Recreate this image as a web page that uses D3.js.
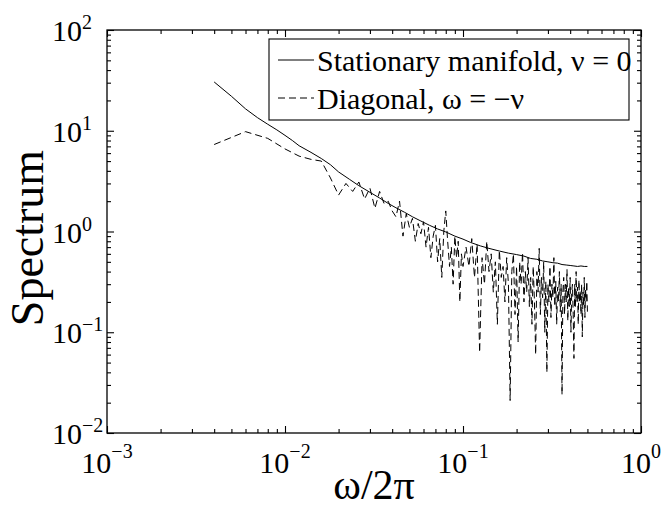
<!DOCTYPE html>
<html>
<head>
<meta charset="utf-8">
<script src="https://cdn.jsdelivr.net/npm/d3@7"></script>
<style>
  body { margin: 0; background: #fff; }
  svg { font-family: "Liberation Serif", "Times New Roman", serif; }
</style>
</head>
<body>
<div id="chart-area"></div>
<script>
// spectrum data
var freqSolid = [0.004,0.005,0.006,0.007,0.008,0.009,0.010,0.011,0.012,0.014,0.016,0.018,0.020,0.023,0.026,0.030,
    0.034,0.038,0.042,0.047,0.052,0.058,0.065,0.072,0.080,0.090,0.100,0.110,0.125,0.140,0.160,0.180,0.200,0.220,
    0.240,0.260,0.280,0.300,0.320,0.340,0.360,0.380,0.400,0.420,0.440,0.460,0.480,0.500];
var specSolid = [30.5,22,16.5,13.5,11.6,10.2,9.0,8.0,7.1,6.1,5.3,4.6,3.9,3.3,2.85,2.45,
    2.15,1.9,1.72,1.55,1.40,1.27,1.15,1.06,0.99,0.90,0.84,0.78,0.72,0.68,0.64,0.61,0.59,0.57,
    0.54,0.53,0.51,0.50,0.49,0.485,0.47,0.465,0.46,0.455,0.45,0.455,0.45,0.45];

var freqDiag = [0.004,0.006,0.008,0.010,0.012,0.014,0.016,0.018,0.020,0.022,0.024,0.026,0.028,0.030,0.032,0.034,
    0.036,0.038,0.040,0.042,0.044,0.046,0.048,0.050,0.052,0.054,0.056,0.058,0.060,0.062,0.064,0.066,0.068,0.070,
    0.072,0.074,0.076,0.078,0.080,0.082,0.084,0.086,0.088,0.090,0.092,0.094,0.096,0.098,0.100,
    0.104,0.108,0.112,0.116,0.120,0.124,0.128,0.132,0.136,0.140,0.144,0.148,0.152,0.156,0.160,0.164,0.168,0.172,
    0.176,0.180,0.184,0.188,0.192,0.196,0.200,0.204,0.208,0.212,0.216,0.220,0.224,0.228,0.232,0.236,0.240,0.244,
    0.248,0.252,0.256,0.260,0.264,0.268,0.272,0.276,0.280,0.284,0.288,0.292,0.296,0.300,0.304,0.308,0.312,0.316,
    0.320,0.324,0.328,0.332,0.336,0.340,0.344,0.348,0.352,0.356,0.360,0.364,0.368,0.372,0.376,0.380,0.384,0.388,
    0.392,0.396,0.400,0.404,0.408,0.412,0.416,0.420,0.424,0.428,0.432,0.436,0.440,0.444,0.448,0.452,0.456,0.460,
    0.464,0.468,0.472,0.476,0.480,0.484,0.488,0.492,0.496,0.500];
var specDiag = [7.3,9.8,8.4,6.6,5.6,5.2,5.0,3.4,2.3,3.0,2.5,3.1,2.1,2.7,1.7,2.5,
    1.9,2.0,1.6,1.4,2.0,0.9,1.5,1.1,1.35,0.8,1.2,0.95,1.25,0.7,1.1,0.55,0.9,1.15,
    0.5,0.85,0.35,1.0,1.6,0.8,0.45,0.7,0.3,0.9,0.55,0.8,0.2,0.6,0.45,
    0.7,0.45,0.85,0.35,0.75,0.063,0.55,0.3,0.8,0.4,0.6,0.25,0.5,0.12,0.65,0.35,0.45,0.2,
    0.55,0.3,0.021,0.4,0.6,0.15,0.45,0.08,0.5,0.3,0.62,0.2,0.4,0.25,0.55,0.18,0.35,0.12,
    0.45,0.2,0.06,0.4,0.25,0.68,0.15,0.35,0.22,0.5,0.1,0.32,0.04,0.3,0.2,0.45,0.14,0.3,
    0.22,0.55,0.18,0.32,0.12,0.28,0.2,0.4,0.16,0.3,0.024,0.25,0.35,0.15,0.3,0.2,0.42,0.13,
    0.28,0.18,0.35,0.1,0.25,0.3,0.15,0.055,0.3,0.18,0.4,0.2,0.28,0.12,0.33,0.2,0.26,0.15,
    0.3,0.09,0.25,0.18,0.35,0.14,0.27,0.2,0.32,0.16];

var xMajor = [1e-3, 1e-2, 1e-1, 1];
var xExp = ["\u22123", "\u22122", "\u22121", "0"];
var yMajor = [1e-2, 1e-1, 1, 10, 100];
var yExp = ["\u22122", "\u22121", "0", "1", "2"];
var legendLabels = ["Stationary manifold, \u03BD = 0", "Diagonal, \u03C9 = \u2212\u03BD"];

var width = 661, height = 510;
var plot = {left: 107, right: 641, top: 30, bottom: 433};

var svg = d3.select("#chart-area").append("svg").attr("width", width).attr("height", height);
svg.append("rect").attr("width", width).attr("height", height).attr("fill", "#fff");

var x = d3.scaleLog().domain([1e-3, 1]).range([plot.left, plot.right]);
var y = d3.scaleLog().domain([1e-2, 1e2]).range([plot.bottom, plot.top]);

var isMajor = (v) => Math.abs(Math.log10(v) - Math.round(Math.log10(v))) < 1e-9;
var xMinor = x.ticks().filter((v) => !isMajor(v));
var yMinor = y.ticks().filter((v) => !isMajor(v));

// inward ticks on all four sides
function ticks(axisFn, scale, vals, size, transform) {
    svg.append("g").attr("transform", transform)
        .call(axisFn(scale).tickValues(vals).tickSize(-size).tickSizeOuter(0).tickFormat(""))
        .call((g) => g.select(".domain").remove())
        .selectAll("line").attr("stroke", "#000").attr("stroke-width", 1.1);
}
[[xMinor, 4], [xMajor, 7]].forEach((p) => {
    ticks(d3.axisBottom, x, p[0], p[1], "translate(0," + plot.bottom + ")");
    ticks(d3.axisTop, x, p[0], p[1], "translate(0," + plot.top + ")");
});
[[yMinor, 4], [yMajor, 7]].forEach((p) => {
    ticks(d3.axisLeft, y, p[0], p[1], "translate(" + plot.left + ",0)");
    ticks(d3.axisRight, y, p[0], p[1], "translate(" + plot.right + ",0)");
});

// data lines
var line = d3.line().x((d) => x(d[0])).y((d) => y(d[1]));
svg.append("clipPath").attr("id", "clip").append("rect")
    .attr("x", plot.left).attr("y", plot.top).attr("width", plot.right - plot.left).attr("height", plot.bottom - plot.top);
var lines = svg.append("g").attr("clip-path", "url(#clip)");
lines.append("path").datum(d3.zip(freqDiag, specDiag)).attr("d", line)
    .attr("fill", "none").attr("stroke", "#000").attr("stroke-width", 1).attr("stroke-dasharray", "7,4");
lines.append("path").datum(d3.zip(freqSolid, specSolid)).attr("d", line)
    .attr("fill", "none").attr("stroke", "#000").attr("stroke-width", 1);

// frame
svg.append("rect").attr("x", plot.left).attr("y", plot.top)
    .attr("width", plot.right - plot.left).attr("height", plot.bottom - plot.top)
    .attr("fill", "none").attr("stroke", "#000").attr("stroke-width", 1.3);

// tick labels
xMajor.forEach((v, i) => {
    var t = svg.append("text").attr("x", x(v)).attr("y", plot.bottom + 40)
        .attr("text-anchor", "middle").attr("font-size", "30px");
    t.append("tspan").text("10");
    t.append("tspan").attr("dy", -15).attr("font-size", "20px").text(xExp[i]);
});
yMajor.forEach((v, i) => {
    var t = svg.append("text").attr("x", 52).attr("y", y(v) + 11)
        .attr("text-anchor", "start").attr("font-size", "30px");
    t.append("tspan").text("10");
    t.append("tspan").attr("dy", -12).attr("font-size", "20px").text(yExp[i]);
});

// axis labels
svg.append("text").attr("x", (plot.left + plot.right) / 2).attr("y", 499)
    .attr("text-anchor", "middle").attr("font-size", "42px").text("\u03C9/2\u03C0");
svg.append("text").attr("transform", "translate(43,238) rotate(-90)")
    .attr("text-anchor", "middle").attr("font-size", "46px").text("Spectrum");

// legend
var legend = svg.append("g");
legend.append("rect").attr("x", 269).attr("y", 39).attr("width", 360).attr("height", 81)
    .attr("fill", "#fff").attr("stroke", "#000").attr("stroke-width", 1.1);
legendLabels.forEach((lab, i) => {
    var ly = 60 + i * 38;
    legend.append("line").attr("x1", 278).attr("x2", 314).attr("y1", ly).attr("y2", ly)
        .attr("stroke", "#000").attr("stroke-width", 1)
        .attr("stroke-dasharray", i === 1 ? "7,4" : null);
    legend.append("text").attr("x", 317).attr("y", ly + 11).attr("font-size", "30px").text(lab);
});
</script>
</body>
</html>
